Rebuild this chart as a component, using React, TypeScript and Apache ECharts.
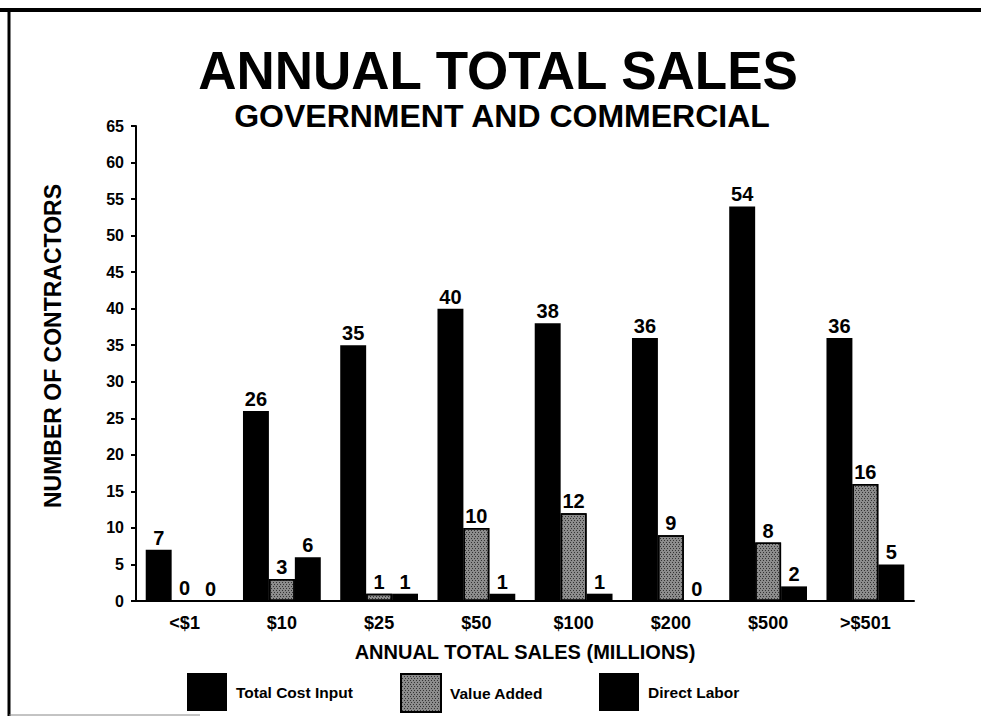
import React, { useEffect, useRef } from "react";
import * as echarts from "echarts";

const categories = ["<$1", "$10", "$25", "$50", "$100", "$200", "$500", ">$501"];
const totalCostInput = [7, 26, 35, 40, 38, 36, 54, 36];
const valueAdded = [0, 3, 1, 10, 12, 9, 8, 16];
const directLabor = [0, 6, 1, 1, 1, 0, 2, 5];
const seriesNames = ["Total Cost Input", "Value Added", "Direct Labor"];

const FONT = "'Liberation Sans', Arial, Helvetica, sans-serif";

export default function App() {
  const ref = useRef<HTMLDivElement>(null);
  useEffect(() => {
    if (!ref.current) return;
    const chart = echarts.init(ref.current, null, { renderer: "svg" });
    const label = {
      show: true,
      position: "top",
      distance: 2,
      color: "#000",
      fontFamily: FONT,
      fontWeight: "bold",
      fontSize: 20,
    };
    const legendText = {
      color: "#000",
      fontFamily: FONT,
      fontWeight: "bold",
      fontSize: 15.5,
      padding: [0, 0, 0, 4],
    };
    const mkLegend = (name: string, left: number) => ({
      data: [name],
      left,
      top: 668,
      itemWidth: 40,
      itemHeight: 38,
      icon: "rect",
      textStyle: legendText,
      selectedMode: false,
    });
    chart.setOption({
      animation: false,
      backgroundColor: "#fff",
      graphic: [
        { type: "line", shape: { x1: 0, y1: 10, x2: 981, y2: 10 }, style: { stroke: "#000", lineWidth: 4 } },
        { type: "line", shape: { x1: 9, y1: 8, x2: 9, y2: 716 }, style: { stroke: "#000", lineWidth: 3 } },
        { type: "line", shape: { x1: 9, y1: 715, x2: 200, y2: 715 }, style: { stroke: "#888", lineWidth: 1 } },
        {
          type: "text",
          x: 498,
          y: 70,
          style: {
            text: "ANNUAL TOTAL SALES",
            fill: "#000",
            font: `bold 53px ${FONT}`,
            align: "center",
            verticalAlign: "middle",
          },
        },
        {
          type: "text",
          x: 502,
          y: 116,
          style: {
            text: "GOVERNMENT AND COMMERCIAL",
            fill: "#000",
            font: `bold 32px ${FONT}`,
            align: "center",
            verticalAlign: "middle",
          },
        },
        {
          type: "text",
          x: 53,
          y: 346,
          rotation: Math.PI / 2,
          style: {
            text: "NUMBER OF CONTRACTORS",
            fill: "#000",
            font: `bold 23px ${FONT}`,
            align: "center",
            verticalAlign: "middle",
          },
        },
      ],
      legend: [
        mkLegend(seriesNames[0], 182),
        mkLegend(seriesNames[1], 395),
        mkLegend(seriesNames[2], 594),
      ],
      grid: { left: 136, right: 67, top: 126, bottom: 116, containLabel: false },
      xAxis: {
        type: "category",
        data: categories,
        name: "ANNUAL TOTAL SALES (MILLIONS)",
        nameLocation: "middle",
        nameGap: 41,
        nameTextStyle: { color: "#000", fontFamily: FONT, fontWeight: "bold", fontSize: 20 },
        axisLine: { lineStyle: { color: "#000", width: 2 } },
        axisTick: { alignWithLabel: true, length: 6, lineStyle: { color: "#000", width: 2 } },
        axisLabel: { color: "#000", fontFamily: FONT, fontWeight: "bold", fontSize: 18, margin: 13 },
      },
      yAxis: {
        type: "value",
        min: 0,
        max: 65,
        interval: 5,
        splitLine: { show: false },
        axisLine: { show: true, lineStyle: { color: "#000", width: 2 } },
        axisTick: { show: true, length: 5, lineStyle: { color: "#000", width: 2 } },
        axisLabel: { color: "#000", fontFamily: FONT, fontWeight: "bold", fontSize: 16, margin: 12 },
      },
      series: [
        {
          name: seriesNames[0],
          type: "bar",
          data: totalCostInput,
          barGap: "0%",
          barCategoryGap: "20%",
          itemStyle: { color: "#000" },
          label,
        },
        {
          name: seriesNames[1],
          type: "bar",
          data: valueAdded,
          itemStyle: {
            color: "#8c8c8c",
            borderColor: "#000",
            borderWidth: 1.5,
            decal: {
              symbol: "rect",
              symbolSize: 1,
              color: "rgba(30,30,30,0.8)",
              dashArrayX: [[1, 2], [0, 1, 1, 1]],
              dashArrayY: [1, 1],
            },
          },
          label,
        },
        {
          name: seriesNames[2],
          type: "bar",
          data: directLabor,
          itemStyle: { color: "#000" },
          label,
        },
      ],
    });
    return () => chart.dispose();
  }, []);
  return (
    <div
      ref={ref}
      style={{ position: "absolute", left: 0, top: 0, width: 981, height: 717 }}
    />
  );
}
